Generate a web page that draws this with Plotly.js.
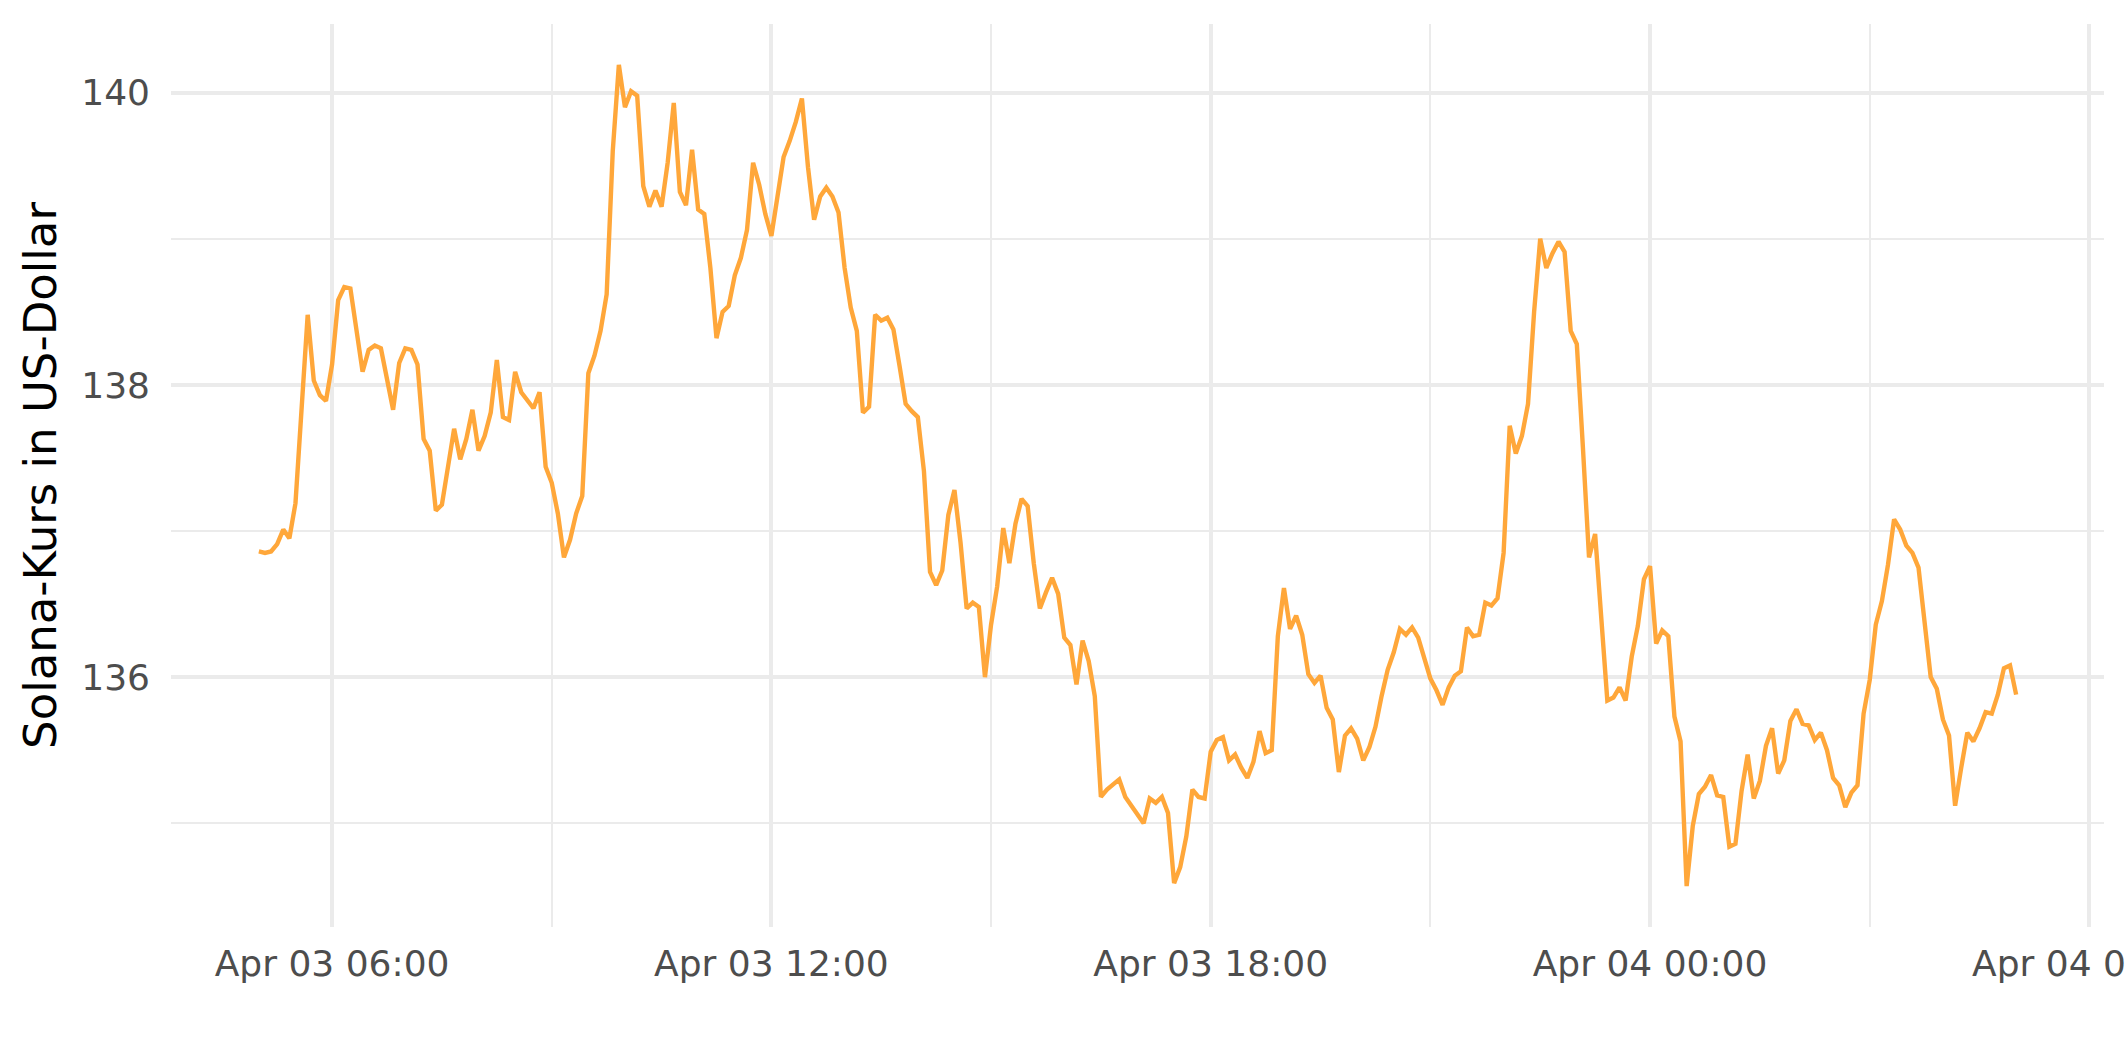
<!DOCTYPE html>
<html>
<head>
<meta charset="utf-8">
<script src="https://cdn.plot.ly/plotly-3.0.1.min.js"></script>
<style>html,body{margin:0;padding:0;background:#fff;}#chart{width:2125px;height:1062px;}</style>
</head>
<body>
<div id="chart"></div>
<script>
// Start time and sampling interval of the series (5-minute prices)
const startTime = "2025-04-03T05:00:00";
const stepMinutes = 5;

// Solana price in US-Dollar, one value every 5 minutes
const prices = [
136.86,136.85,136.86,136.91,137.01,136.95,137.19,137.85,138.48,138.03,
137.93,137.89,138.14,138.58,138.67,138.66,138.38,138.09,138.24,138.27,
138.25,138.03,137.83,138.15,138.25,138.24,138.14,137.63,137.55,137.14,
137.18,137.44,137.70,137.49,137.63,137.83,137.55,137.65,137.81,138.17,
137.78,137.76,138.09,137.95,137.89,137.84,137.95,137.44,137.33,137.12,
136.82,136.94,137.12,137.24,138.08,138.20,138.37,138.62,139.60,140.19,
139.90,140.01,139.98,139.36,139.22,139.33,139.22,139.52,139.93,139.32,
139.23,139.61,139.20,139.17,138.80,138.32,138.50,138.54,138.75,138.87,
139.06,139.52,139.37,139.17,139.02,139.27,139.56,139.67,139.80,139.96,
139.49,139.13,139.29,139.35,139.29,139.18,138.80,138.53,138.37,137.81,
137.85,138.48,138.44,138.46,138.38,138.13,137.87,137.82,137.78,137.41,
136.72,136.63,136.73,137.11,137.28,136.92,136.47,136.51,136.48,136.00,
136.36,136.62,137.02,136.78,137.05,137.22,137.17,136.78,136.47,136.58,
136.68,136.57,136.27,136.22,135.95,136.25,136.11,135.87,135.18,135.23,
135.27,135.30,135.18,135.12,135.06,135.00,135.17,135.14,135.18,135.07,
134.59,134.70,134.91,135.23,135.18,135.17,135.49,135.57,135.59,135.43,
135.47,135.38,135.31,135.42,135.63,135.48,135.50,136.28,136.61,136.33,
136.42,136.29,136.02,135.96,136.01,135.79,135.71,135.35,135.60,135.65,
135.58,135.43,135.52,135.66,135.87,136.05,136.17,136.33,136.29,136.34,
136.27,136.14,135.99,135.91,135.81,135.93,136.01,136.04,136.34,136.28,
136.29,136.51,136.49,136.54,136.85,137.72,137.53,137.65,137.87,138.50,
139.00,138.80,138.90,138.98,138.91,138.37,138.28,137.57,136.82,136.98,
136.45,135.84,135.86,135.93,135.84,136.14,136.35,136.67,136.76,136.23,
136.32,136.28,135.73,135.56,134.57,134.98,135.20,135.25,135.33,135.19,
135.18,134.84,134.86,135.22,135.47,135.17,135.29,135.53,135.65,135.34,
135.43,135.70,135.78,135.68,135.67,135.57,135.62,135.50,135.31,135.26,
135.11,135.21,135.26,135.75,135.98,136.36,136.52,136.77,137.08,137.01,
136.90,136.85,136.75,136.37,136.00,135.92,135.71,135.60,135.12,135.38,
135.62,135.56,135.65,135.76,135.75,135.88,136.06,136.08,135.88
];

const yTickValues = [136, 138, 140];
const yTickLabels = ["136", "138", "140"];
const yAxisTitle = "Solana-Kurs in US-Dollar";

function pad(n){return String(n).padStart(2,"0");}
function fmt(d){
  return d.getFullYear()+"-"+pad(d.getMonth()+1)+"-"+pad(d.getDate())+" "+pad(d.getHours())+":"+pad(d.getMinutes())+":00";
}
const t0 = new Date(startTime);
const times = prices.map((_, i) => fmt(new Date(t0.getTime() + i*stepMinutes*60000)));

const trace = {
  x: times,
  y: prices,
  type: "scatter",
  mode: "lines",
  line: {color: "#FFA73A", width: 4.4},
  hoverinfo: "x+y"
};

const gridMajor = "#EBEBEB";
const layout = {
  width: 2125,
  height: 1062,
  margin: {l: 171, r: 21, t: 24, b: 135},
  paper_bgcolor: "#FFFFFF",
  plot_bgcolor: "#FFFFFF",
  showlegend: false,
  font: {family: "DejaVu Sans", color: "#4D4D4D"},
  xaxis: {
    type: "date",
    range: ["2025-04-03 03:48:00", "2025-04-04 06:12:00"],
    tick0: "2025-04-03 00:00:00",
    dtick: 6*3600000,
    tickformat: "%b %d %H:%M",
    showgrid: true,
    gridcolor: gridMajor,
    gridwidth: 4,
    minor: {dtick: 3*3600000, tick0: "2025-04-03 00:00:00", showgrid: true, gridcolor: gridMajor, gridwidth: 2},
    zeroline: false,
    showline: false,
    ticks: "",
    tickfont: {family: "DejaVu Sans", size: 36, color: "#4D4D4D"},
    ticklabelstandoff: 12,
    ticklabeloverflow: "allow"
  },
  yaxis: {
    range: [134.29, 140.47],
    tickmode: "array",
    tickvals: yTickValues,
    ticktext: yTickLabels,
    showgrid: true,
    gridcolor: gridMajor,
    gridwidth: 4,
    minor: {dtick: 1, tick0: 135, showgrid: true, gridcolor: gridMajor, gridwidth: 2},
    zeroline: false,
    showline: false,
    ticks: "",
    tickfont: {family: "DejaVu Sans", size: 36, color: "#4D4D4D"},
    ticklabelstandoff: 20,
    title: {text: yAxisTitle, font: {family: "DejaVu Sans", size: 45, color: "#000000"}, standoff: 10}
  }
};

Plotly.newPlot("chart", [trace], layout, {displayModeBar: false, staticPlot: true});
</script>
</body>
</html>
